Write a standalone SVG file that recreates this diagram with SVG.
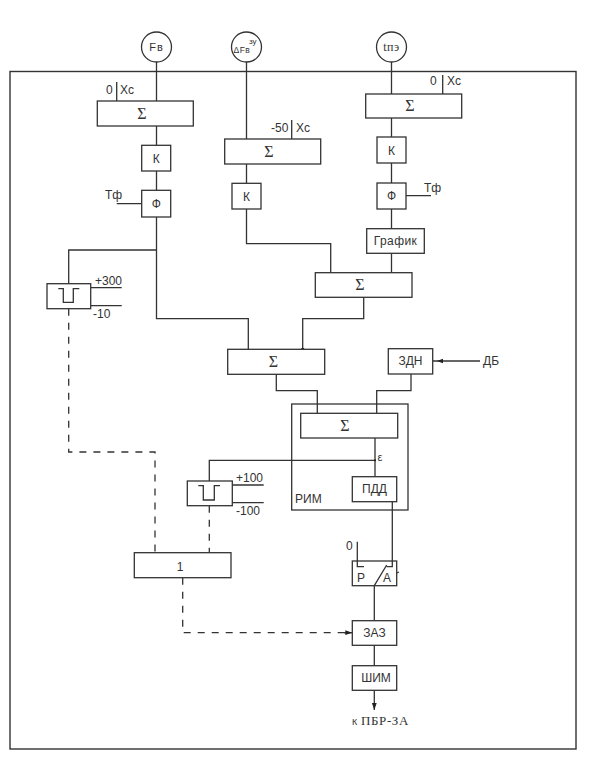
<svg xmlns="http://www.w3.org/2000/svg" width="596" height="758" viewBox="0 0 596 758">
<style>
.b{fill:#fff;stroke:#333;stroke-width:1.3}
.l{fill:none;stroke:#333;stroke-width:1.3}
.d{fill:none;stroke:#333;stroke-width:1.3;stroke-dasharray:7 7}
text{font-family:"Liberation Sans",Arial,sans-serif;font-size:12px;fill:#333}
.c{text-anchor:middle}
.s{font-family:"Liberation Serif","Times New Roman",serif;font-size:16px}
</style>
<defs>
<marker id="a" markerWidth="8" markerHeight="6" refX="7" refY="3" orient="auto" markerUnits="userSpaceOnUse"><path d="M0 0.6L7 3L0 5.4Z" fill="#222"/></marker>
</defs>
<rect width="596" height="758" fill="#fff"/>
<rect id="frame" x="10" y="71.5" width="566" height="677.5" fill="none" stroke="#333" stroke-width="1.4"/>
<g id="connectors">
<path class="l" d="M156.5 62V101M156.5 126V145M156.5 171V190M156.5 217V250M156.5 250H68.7V284M156.5 250V318.7H248.3V349.5"/>
<path class="l" d="M116.7 82V101M116.7 203.7H141.7"/>
<path class="l" d="M246.5 62V139M246.5 164V183M246.5 209V243.7H330.7V272.7M291.7 120V139"/>
<path class="l" d="M391.5 62V94M391.5 118V137M391.5 163V183M391.5 209V228.7M391.5 253.3V272.7M442.7 75V94M406 195.7H431"/>
<path class="l" d="M363.7 297.3V318.7H302.7V349.5"/>
<circle cx="302.7" cy="349.5" r="1.8" fill="#222"/>
<path class="l" d="M276.3 374.3V390.7H317.3V413.3M411 374V390.7H376.7V413.3"/>
<path class="l" d="M480 361H433"/>
<path fill="#222" d="M437 361L443 358.8V363.2Z"/>
<path class="l" d="M375 438V476.7M375 460.3H209.3V481"/>
<circle cx="375" cy="460.3" r="1.1" fill="#222"/>
<path class="l" d="M90.7 287.7H121.7M90.7 305.7H121.7M232.3 485H263.7M232.3 502.7H263.7"/>
<path class="l" d="M392.3 501.7V561M357.3 541.7V561M374.3 585.7V620.7M374.3 645.3V665.7M396.7 573L399 572"/>
<path class="l" marker-end="url(#a)" d="M374.3 690.3V710"/>
<path class="d" d="M68.7 308.7V452H155V552.7M209.3 505.7V552.7"/>
<path class="d" d="M182.7 577.7V632.7H346"/>
<path class="l" marker-end="url(#a)" d="M344 632.7H352.3"/>
</g>
<g id="fv"><circle class="b" cx="156.5" cy="47" r="15"/><text class="c" x="156.5" y="51" style="font-size:11px;letter-spacing:1px">Fв</text></g>
<g id="dfv"><circle class="b" cx="246.5" cy="47" r="15"/><text x="233.5" y="53" style="font-size:8.5px;letter-spacing:.5px">ΔFв</text><text x="249" y="44" style="font-size:8px">зу</text></g>
<g id="tpe"><circle class="b" cx="391.5" cy="47" r="15"/><text class="c" x="391.5" y="51" style="font-family:'Liberation Serif',serif;font-size:12px;letter-spacing:.6px">tпэ</text></g>
<g id="sum1"><rect class="b" x="97.3" y="101" width="96" height="25"/><text class="c s" x="142" y="119">Σ</text></g>
<g id="k1"><rect class="b" x="141.7" y="145.3" width="29" height="25.7"/><text class="c" x="156.2" y="163">К</text></g>
<g id="f1"><rect class="b" x="141.7" y="190.3" width="29" height="26.7"/><text class="c" x="156.2" y="208">Ф</text></g>
<g id="sum2"><rect class="b" x="224.7" y="139" width="96" height="25"/><text class="c s" x="269" y="157">Σ</text></g>
<g id="k2"><rect class="b" x="232" y="183.3" width="29" height="25.7"/><text class="c" x="246.5" y="201">К</text></g>
<g id="sum3"><rect class="b" x="365.7" y="94" width="96" height="24"/><text class="c s" x="410" y="111">Σ</text></g>
<g id="k3"><rect class="b" x="377" y="137" width="29" height="26"/><text class="c" x="391.5" y="155">К</text></g>
<g id="f3"><rect class="b" x="377" y="183" width="29" height="26"/><text class="c" x="391.5" y="200">Ф</text></g>
<g id="graph"><rect class="b" x="366.7" y="228.7" width="57.6" height="24.6"/><text class="c" x="395.5" y="245" style="letter-spacing:.4px">График</text></g>
<g id="sum4"><rect class="b" x="315.3" y="272.7" width="96.7" height="24.6"/><text class="c s" x="360" y="289.5">Σ</text></g>
<g id="sum5"><rect class="b" x="227.7" y="349.3" width="97" height="25"/><text class="c s" x="273.5" y="367">Σ</text></g>
<g id="zdn"><rect class="b" x="388.3" y="348.7" width="44.4" height="25.3"/><text class="c" x="410.5" y="365">ЗДН</text></g>
<g id="rim"><rect class="l" x="291.7" y="404" width="116.3" height="106"/><text x="295" y="503">РИМ</text></g>
<g id="sum6"><rect class="b" x="300.7" y="413.3" width="97" height="24.7"/><text class="c s" x="345" y="430.5">Σ</text></g>
<g id="pdd"><rect class="b" x="352.3" y="476.7" width="44.4" height="25"/><text class="c" x="374.5" y="493">ПДД</text></g>
<g id="thr1"><rect class="b" x="47" y="283.7" width="43.7" height="25"/><path class="l" d="M58.3 288.7H63.3V302.3H73.3V288.7H79.3"/></g>
<g id="thr2"><rect class="b" x="187.3" y="481" width="45" height="24.7"/><path class="l" d="M198.3 485.7H203.3V500H214.3V485.7H220"/></g>
<g id="or1"><rect class="b" x="134.3" y="552.7" width="96.7" height="25"/><text class="c" x="180" y="571">1</text></g>
<g id="sw"><rect class="b" x="352.3" y="561" width="44.4" height="24.7"/><path class="l" d="M357.3 561V566.7H364M392.3 561V566.7H386.7M374.3 585.7L386.7 565"/><text x="357" y="582">Р</text><text x="383" y="582">А</text></g>
<g id="zaz"><rect class="b" x="352.3" y="620.7" width="44.4" height="24.6"/><text class="c" x="374.5" y="637">ЗАЗ</text></g>
<g id="shim"><rect class="b" x="352.3" y="665.7" width="44.4" height="24.6"/><text class="c" x="376" y="682">ШИМ</text></g>
<g id="labels">
<text x="106" y="94">0</text><text x="120" y="94">Хс</text>
<text x="271" y="132">-50</text><text x="296" y="132">Хс</text>
<text x="430" y="85">0</text><text x="447" y="85">Хс</text>
<text x="105" y="199">Тф</text><text x="424" y="192">Тф</text>
<text x="95" y="285">+300</text><text x="93" y="318">-10</text>
<text x="236" y="481.5">+100</text><text x="236" y="515">-100</text>
<text x="377.5" y="461" style="font-size:11px">ε</text>
<text x="483" y="365">ДБ</text>
<text x="346" y="550">0</text>
<text x="352" y="725" style="font-size:9px">К</text>
<text x="361" y="725" style="font-family:'Liberation Serif',serif;font-size:13px;letter-spacing:.6px">ПБР-ЗА</text>
</g>
</svg>
